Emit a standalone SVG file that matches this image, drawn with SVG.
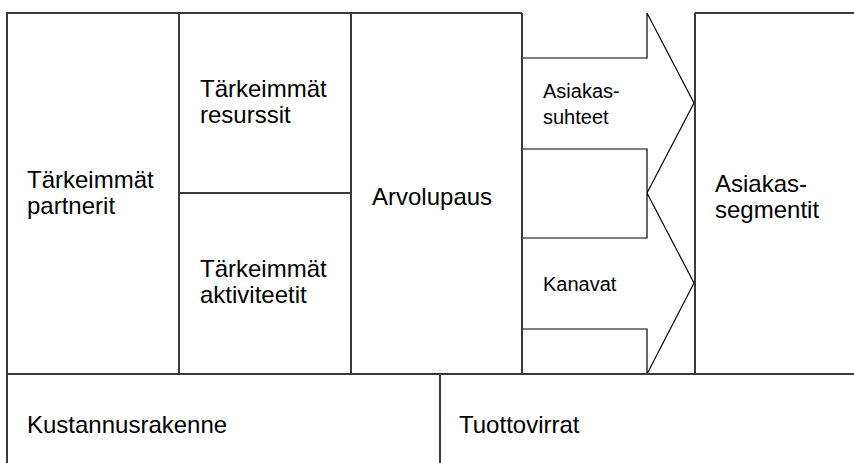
<svg xmlns="http://www.w3.org/2000/svg" width="854" height="463" viewBox="0 0 854 463">
<style>
.box{fill:none;stroke:#3a3a3a;stroke-width:2}
.arr{fill:none;stroke:#000;stroke-width:1.2;stroke-linejoin:miter}
.t{font-family:"Liberation Sans",Arial,sans-serif;font-size:24px;fill:#000}
.s{font-family:"Liberation Sans",Arial,sans-serif;font-size:20px;fill:#000}
</style>
<rect width="854" height="463" fill="#fff"/>
<g id="connectors">
<g id="arrow-asiakassuhteet">
<path class="arr" d="M522,58 H647 V13 L694,103 L647,193 V149 H522"/>
<text class="s" x="543" y="98">Asiakas-</text>
<text class="s" x="543" y="124">suhteet</text>
</g>
<g id="arrow-kanavat">
<path class="arr" d="M522,238 H647 V193 L694,283 L647,374 V329 H522"/>
<text class="s" x="543" y="291">Kanavat</text>
</g>
</g>
<g id="grid">
<path class="box" d="M7,463 V13 H522 M695,13 H854 M7,374 H854 M179,13 V374 M351,13 V374 M522,13 V374 M695,13 V374 M440,374 V463 M179,193 H351"/>
</g>
<g id="partnerit"><text class="t" x="27" y="188">Tärkeimmät</text><text class="t" x="27" y="214">partnerit</text></g>
<g id="resurssit"><text class="t" x="200" y="97">Tärkeimmät</text><text class="t" x="200" y="123">resurssit</text></g>
<g id="aktiviteetit"><text class="t" x="200" y="277">Tärkeimmät</text><text class="t" x="200" y="303">aktiviteetit</text></g>
<g id="arvolupaus"><text class="t" x="372" y="205">Arvolupaus</text></g>
<g id="segmentit"><text class="t" x="715" y="192">Asiakas-</text><text class="t" x="715" y="218">segmentit</text></g>
<g id="kustannusrakenne"><text class="t" x="27" y="433">Kustannusrakenne</text></g>
<g id="tuottovirrat"><text class="t" x="459" y="433">Tuottovirrat</text></g>
</svg>
